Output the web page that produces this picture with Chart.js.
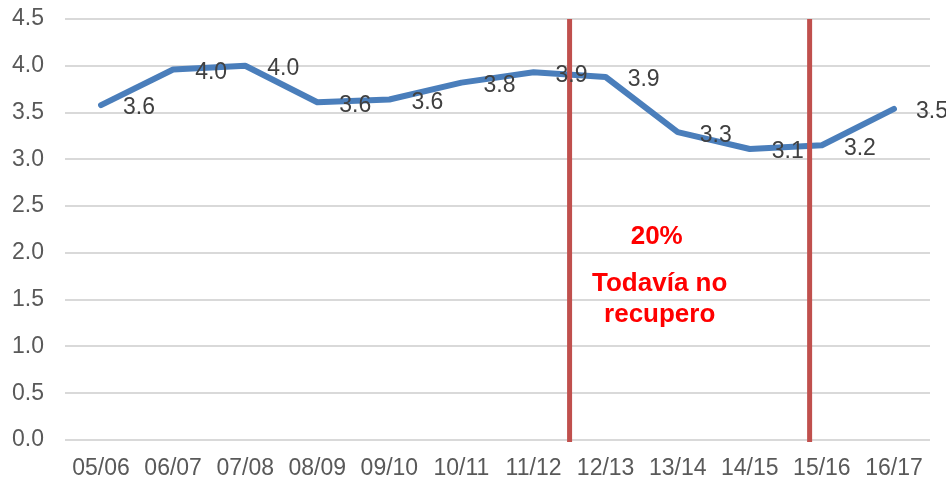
<!DOCTYPE html>
<html>
<head>
<meta charset="utf-8">
<script src="https://cdn.jsdelivr.net/npm/chart.js@4"></script>
<style>
  html, body { margin: 0; padding: 0; background: #fff; }
  #wrap { width: 946px; height: 481px; }
</style>
</head>
<body>
<div id="wrap"><canvas id="chart" width="946" height="481"></canvas></div>
<script>
// Data
const seasons = ['05/06', '06/07', '07/08', '08/09', '09/10', '10/11', '11/12', '12/13', '13/14', '14/15', '15/16', '16/17'];
const values = [3.58, 3.96, 4.0, 3.61, 3.64, 3.82, 3.93, 3.88, 3.29, 3.11, 3.15, 3.54];
const pointLabels = ['3.6', '4.0', '4.0', '3.6', '3.6', '3.8', '3.9', '3.9', '3.3', '3.1', '3.2', '3.5'];
// vertical markers, as category index positions
const markers = [6.5, 9.83];
const noteLines = ['20%', 'Todavía no', 'recupero'];

const FONT = "'Liberation Sans', Arial, sans-serif";

// data labels to the right of each point
const valueLabels = {
    id: 'valueLabels',
    afterDatasetsDraw(chart) {
        const ctx = chart.ctx;
        const meta = chart.getDatasetMeta(0);
        ctx.save();
        ctx.font = '23px ' + FONT;
        ctx.fillStyle = '#404040';
        ctx.textAlign = 'left';
        ctx.textBaseline = 'middle';
        meta.data.forEach((pt, i) => {
            ctx.fillText(pointLabels[i], pt.x + 22, pt.y + 3);
        });
        ctx.restore();
    }
};

// red vertical lines and the note between them
const markerLines = {
    id: 'markerLines',
    afterDatasetsDraw(chart) {
        const ctx = chart.ctx;
        const x = chart.scales.x, y = chart.scales.y;
        const area = chart.chartArea;
        ctx.save();
        ctx.strokeStyle = '#C0504D';
        ctx.lineWidth = 5;
        markers.forEach(m => {
            const px = x.getPixelForValue(m);
            ctx.beginPath();
            ctx.moveTo(px, area.top);
            ctx.lineTo(px, area.bottom + 2);
            ctx.stroke();
        });
        ctx.font = 'bold 26px ' + FONT;
        ctx.fillStyle = '#FF0000';
        ctx.textAlign = 'center';
        ctx.textBaseline = 'middle';
        const cx = x.getPixelForValue(7.75);
        const top = y.getPixelForValue(2.17);
        ctx.fillText(noteLines[0], cx - 3, top);
        ctx.fillText(noteLines[1], cx, top + 47);
        ctx.fillText(noteLines[2], cx, top + 78);
        ctx.restore();
    }
};

new Chart(document.getElementById('chart'), {
    type: 'line',
    data: {
        labels: seasons,
        datasets: [{
            data: values,
            borderColor: '#4A7EBB',
            borderWidth: 6,
            pointRadius: 0,
            tension: 0,
            fill: false,
            borderCapStyle: 'round',
            borderJoinStyle: 'round'
        }]
    },
    options: {
        responsive: false,
        animation: false,
        layout: { padding: { top: 19, right: 16, left: 0, bottom: 0 } },
        plugins: {
            legend: { display: false },
            tooltip: { enabled: false }
        },
        scales: {
            x: {
                offset: true,
                grid: { display: false, drawTicks: false },
                border: { display: false },
                ticks: { color: '#595959', font: { family: FONT, size: 23 }, padding: 15, maxRotation: 0, autoSkip: false },
                afterFit(axis) { axis.height = 41; }
            },
            y: {
                min: 0,
                max: 4.5,
                grid: { color: '#D9D9D9', lineWidth: 2, drawTicks: false },
                border: { display: false },
                ticks: {
                    stepSize: 0.5,
                    color: '#595959',
                    font: { family: FONT, size: 23 },
                    padding: 21,
                    callback: v => v.toFixed(1)
                },
                afterFit(axis) {
                    axis.width = 65;
                    axis.paddingTop = 0;
                    axis.paddingBottom = 0;
                }
            }
        }
    },
    plugins: [markerLines, valueLabels]
});
</script>
</body>
</html>
